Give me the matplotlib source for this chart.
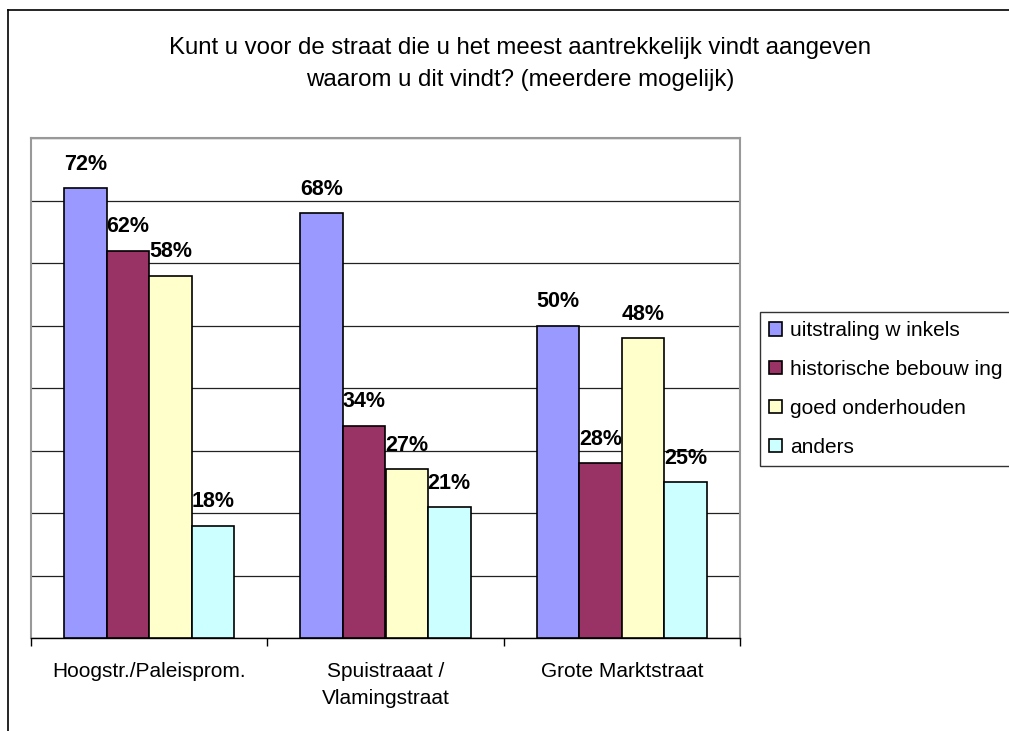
import matplotlib.pyplot as plt
import numpy as np

# Data
categories = ['Hoogstr./Paleisprom.', 'Spuistraaat /\nVlamingstraat', 'Grote Marktstraat']
series_names = ['uitstraling w inkels', 'historische bebouw ing', 'goed onderhouden', 'anders']
uitstraling = [72, 68, 50]
historisch = [62, 34, 28]
onderhouden = [58, 27, 48]
anders = [18, 21, 25]
colors = ['#9999FF', '#993366', '#FFFFCC', '#CCFFFF']

plt.rcParams['font.family'] = ['Liberation Sans', 'DejaVu Sans']

fig = plt.figure(figsize=(10.09, 7.31), dpi=100)
ax = fig.add_axes([31 / 1009, 93 / 731, 709 / 1009, 500 / 731])

# Outer chart border (left and top only visible)
fig.add_artist(plt.Line2D([8 / 1009, 8 / 1009], [0, 1 - 10 / 731], color='black', linewidth=1.2))
fig.add_artist(plt.Line2D([8 / 1009, 1], [1 - 10 / 731, 1 - 10 / 731], color='black', linewidth=1.2))

x = np.arange(len(categories))
width = 0.18
all_series = [uitstraling, historisch, onderhouden, anders]
for i, (vals, name, col) in enumerate(zip(all_series, series_names, colors)):
    pos = x + (i - 1.5) * width
    ax.bar(pos, vals, width, color=col, edgecolor='black', linewidth=1.2, label=name, zorder=3)
    for px, v in zip(pos, vals):
        ax.annotate(f'{v}%', (px, v), xytext=(0, 13), textcoords='offset points',
                    ha='center', va='baseline', fontsize=15.5, fontweight='bold', zorder=4)

ax.set_xlim(-0.5, 2.5)
ax.set_ylim(0, 80)
ax.set_yticks(np.arange(0, 81, 10))
ax.set_yticklabels([])
ax.tick_params(axis='y', length=0)
ax.yaxis.grid(True, color='#222222', linewidth=0.9, zorder=0)

ax.set_xticks([-0.5, 0.5, 1.5, 2.5], minor=False)
ax.set_xticklabels([])
ax.set_xticks(x, minor=True)
ax.set_xticklabels(categories, minor=True, fontsize=15, linespacing=1.55)
ax.tick_params(axis='x', which='major', length=6, width=1, direction='out')
ax.tick_params(axis='x', which='minor', length=0, pad=17)

for s in ['left', 'top', 'right']:
    ax.spines[s].set_color('#999999')
    ax.spines[s].set_linewidth(1.5)
ax.spines['bottom'].set_color('black')
ax.spines['bottom'].set_linewidth(1)

fig.text(520 / 1009, 1 - 64 / 731, 'Kunt u voor de straat die u het meest aantrekkelijk vindt aangeven\nwaarom u dit vindt? (meerdere mogelijk)',
         ha='center', va='center', fontsize=17.3, linespacing=1.55)

leg = ax.legend(loc='upper left', bbox_to_anchor=(760 / 1009, 1 - 312 / 731), bbox_transform=fig.transFigure,
                fontsize=15, frameon=True, fancybox=False, edgecolor='black', handlelength=0.6, handleheight=0.6,
                handletextpad=0.4, labelspacing=0.95, borderaxespad=0, borderpad=0.45)
leg.get_frame().set_linewidth(1)

plt.savefig('out.png', dpi=100)
